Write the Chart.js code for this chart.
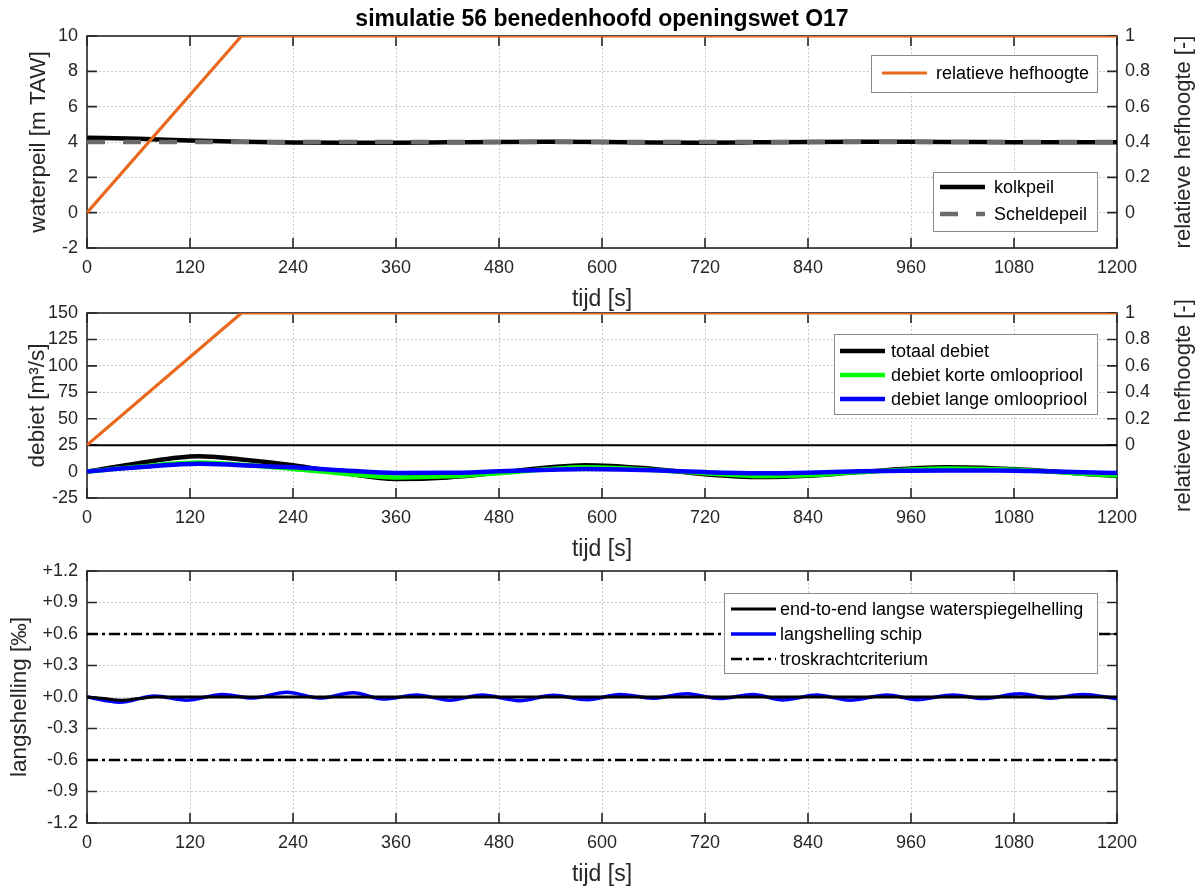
<!DOCTYPE html>
<html>
<head>
<meta charset="utf-8">
<title>simulatie 56 benedenhoofd openingswet O17</title>
<script src="https://cdn.jsdelivr.net/npm/chart.js@4/dist/chart.umd.min.js"></script>
<style>
  html, body { margin: 0; padding: 0; background: #ffffff; }
  #wrap { position: relative; width: 1199px; height: 892px; }
  #wrap canvas { position: absolute; left: 0; top: 0; }
</style>
</head>
<body>
<div id="wrap">
  <canvas id="c1" width="1199" height="892"></canvas>
  <canvas id="c2" width="1199" height="892"></canvas>
  <canvas id="c3" width="1199" height="892"></canvas>
</div>
<script>
// ---- tick values and labels ----
const tijdTicks  = [0, 120, 240, 360, 480, 600, 720, 840, 960, 1080, 1200];
const tijdLabels = ['0', '120', '240', '360', '480', '600', '720', '840', '960', '1080', '1200'];
const peilTicks  = [-2, 0, 2, 4, 6, 8, 10];
const peilLabels = ['-2', '0', '2', '4', '6', '8', '10'];
const debietTicks  = [-25, 0, 25, 50, 75, 100, 125, 150];
const debietLabels = ['-25', '0', '25', '50', '75', '100', '125', '150'];
const hefTicks  = [0, 0.2, 0.4, 0.6, 0.8, 1];
const hefLabels = ['0', '0.2', '0.4', '0.6', '0.8', '1'];
const hellingTicks  = [-1.2, -0.9, -0.6, -0.3, 0, 0.3, 0.6, 0.9, 1.2];
const hellingLabels = ['-1.2', '-0.9', '-0.6', '-0.3', '+0.0', '+0.3', '+0.6', '+0.9', '+1.2'];

// ---- relative lift height of the valves (right axes) ----
const hefTijd   = [0, 180, 1200];
const hefWaarde = [0, 1, 1];

// ---- water levels [m TAW] ----
const peilTijd    = [0, 60, 120, 180, 240, 300, 360, 420, 480, 540, 600, 660, 720, 780, 840, 900, 960, 1020, 1080, 1140, 1200];
const kolkpeil    = [4.24, 4.18, 4.08, 4.01, 3.97, 3.96, 3.96, 3.98, 4.00, 4.01, 4.00, 3.97, 3.96, 3.98, 4.00, 4.01, 4.01, 4.00, 3.99, 3.99, 3.99];
const scheldepeil = [4.00, 4.00, 4.00, 4.00, 4.00, 4.00, 4.00, 4.00, 4.00, 4.00, 4.00, 4.00, 4.00, 4.00, 4.00, 4.00, 4.00, 4.00, 4.00, 4.00, 4.00];

// ---- discharges [m3/s] ----
const debietTijd   = [0, 60, 130, 180, 240, 300, 360, 420, 480, 540, 580, 660, 720, 785, 840, 900, 1000, 1060, 1100, 1150, 1200];
const totaalDebiet = [0, 8, 14.5, 11.5, 6, -1.5, -7, -5.5, -1, 4, 6, 2.5, -2.5, -5.2, -4, -0.5, 4, 3, 1.5, -1.5, -4.2];
const debietKorte  = [0, 4.5, 8.5, 6.5, 2.5, -2, -5.5, -4.5, -1.5, 2.5, 4, 1.5, -1.5, -4.2, -3.5, -0.5, 3, 2.3, 1, -1.5, -3.7];
const debietLange  = [0, 4, 7.5, 6, 4, 1, -1.3, -1.2, 0.3, 1.8, 2.5, 1.3, -0.5, -1.5, -1, 0.2, 1, 1, 0.5, -0.5, -1.3];
const debietRefTijd = [0, 1200];
const debietRef     = [25, 25];

// ---- longitudinal slopes [permille] ----
const endToEndTijd = [0, 20, 40, 60, 80, 120, 240, 360, 480, 600, 720, 840, 960, 1080, 1200];
const endToEnd     = [0, -0.015, -0.03, -0.015, 0, 0, 0, 0, 0, 0, 0, 0, 0, 0, 0];
const schipTijd = [0, 38, 79, 116, 158, 193, 233, 271, 310, 345, 384, 423, 460, 504, 543, 583, 621, 659, 699, 737, 776, 811, 850, 889, 932, 967, 1009, 1044, 1087, 1122, 1160, 1200];
const schip     = [0, -0.05, 0.01, -0.03, 0.025, -0.01, 0.045, -0.01, 0.04, -0.02, 0.018, -0.03, 0.018, -0.035, 0.016, -0.025, 0.025, -0.012, 0.032, -0.015, 0.024, -0.028, 0.018, -0.03, 0.02, -0.025, 0.02, -0.015, 0.03, -0.012, 0.024, -0.015];
const criteriumTijd = [0, 1200];
const criteriumBoven = [0.6, 0.6];
const criteriumOnder = [-0.6, -0.6];

// ---- styling ----
const FONT = "'Liberation Sans', Arial, Helvetica, sans-serif";
const INK = '#262626';
const GRID = '#cbcbcb';
const ORANGE = '#E8691C';
const TICK_LEN = 10;
const XAXIS_H = 65;
const LEFT_W = 87;
const RIGHT_W = 82;

Chart.defaults.font.family = FONT;
Chart.defaults.color = INK;

const pts = (xs, ys) => xs.map((x, i) => ({ x: x, y: ys[i] }));

function xScale() {
  return {
    type: 'linear', min: 0, max: 1200,
    afterBuildTicks: s => { s.ticks = tijdTicks.map(v => ({ value: v })); },
    afterFit: s => { s.height = XAXIS_H; },
    ticks: { callback: (v, i) => tijdLabels[i], font: { size: 18 }, padding: 9, maxRotation: 0, autoSkip: false, color: INK },
    grid: { color: GRID, lineWidth: 1, drawTicks: false },
    border: { display: false, dash: [2, 2] },
    title: { display: true, text: 'tijd [s]', font: { size: 23 }, color: INK, padding: { top: 0, bottom: 0 } }
  };
}

function leftY(min, max, vals, labels, title, titlePad) {
  return {
    type: 'linear', position: 'left', min: min, max: max,
    afterBuildTicks: s => { s.ticks = vals.map(v => ({ value: v })); },
    afterFit: s => { s.width = LEFT_W; },
    ticks: { callback: (v, i) => labels[i], font: { size: 18 }, padding: 9, color: INK },
    grid: { color: GRID, lineWidth: 1, drawTicks: false },
    border: { display: false, dash: [2, 2] },
    title: { display: true, text: title, font: { size: 22.5 }, color: INK, padding: { top: titlePad, bottom: 0 } }
  };
}

function rightY(min, max) {
  return {
    type: 'linear', position: 'right', min: min, max: max,
    afterBuildTicks: s => { s.ticks = hefTicks.map(v => ({ value: v })); },
    afterFit: s => { s.width = RIGHT_W; },
    ticks: { callback: (v, i) => hefLabels[i], font: { size: 18 }, padding: 8, color: INK },
    grid: { display: false, drawTicks: false },
    border: { display: false }
  };
}

// Axes box, inward tick marks, rotated right-hand title and the figure title.
function makeFrame(cfg) {
  return {
    id: 'frame',
    beforeDatasetsDraw(chart) {
      const ctx = chart.ctx, a = chart.chartArea, sc = chart.scales;
      ctx.save();
      ctx.strokeStyle = INK;
      ctx.lineWidth = 1.6;
      ctx.beginPath();
      sc.x.ticks.forEach(t => {
        const px = sc.x.getPixelForValue(t.value);
        ctx.moveTo(px, a.bottom); ctx.lineTo(px, a.bottom - TICK_LEN);
        ctx.moveTo(px, a.top); ctx.lineTo(px, a.top + TICK_LEN);
      });
      sc.y.ticks.forEach(t => {
        const py = sc.y.getPixelForValue(t.value);
        ctx.moveTo(a.left, py); ctx.lineTo(a.left + TICK_LEN, py);
      });
      const r = sc.y2 || sc.y;
      r.ticks.forEach(t => {
        const py = r.getPixelForValue(t.value);
        ctx.moveTo(a.right, py); ctx.lineTo(a.right - TICK_LEN, py);
      });
      ctx.stroke();
      ctx.strokeRect(a.left, a.top, a.right - a.left, a.bottom - a.top);

      if (cfg.rightTitle) {
        ctx.save();
        ctx.translate(cfg.rightTitleX, (a.top + a.bottom) / 2);
        ctx.rotate(-Math.PI / 2);
        ctx.font = '22px ' + FONT;
        ctx.fillStyle = INK;
        ctx.textAlign = 'center';
        ctx.textBaseline = 'middle';
        ctx.fillText(cfg.rightTitle, 0, 0);
        ctx.restore();
      }
      if (cfg.title) {
        ctx.font = 'bold 23px ' + FONT;
        ctx.fillStyle = '#000000';
        ctx.textAlign = 'center';
        ctx.textBaseline = 'alphabetic';
        ctx.fillText(cfg.title, (a.left + a.right) / 2, cfg.titleY);
      }
      ctx.restore();
    }
  };
}

// Boxed legends inside the plot area, built from the datasets' own styles.
function makeLegend(boxes) {
  return {
    id: 'boxLegend',
    afterDatasetsDraw(chart) {
      const ctx = chart.ctx;
      boxes.forEach(b => {
        ctx.save();
        ctx.fillStyle = '#ffffff';
        ctx.fillRect(b.left, b.top, b.right - b.left, b.bottom - b.top);
        ctx.strokeStyle = '#8a8a8a';
        ctx.lineWidth = 1;
        ctx.strokeRect(b.left + 0.5, b.top + 0.5, b.right - b.left, b.bottom - b.top);
        b.rows.forEach(row => {
          const ds = chart.data.datasets[row.ds];
          ctx.beginPath();
          ctx.setLineDash(ds.borderDash || []);
          ctx.strokeStyle = ds.borderColor;
          ctx.lineWidth = ds.borderWidth;
          ctx.moveTo(b.lineFrom, row.y);
          ctx.lineTo(b.lineTo, row.y);
          ctx.stroke();
          ctx.setLineDash([]);
          ctx.font = '18px ' + FONT;
          ctx.fillStyle = '#000000';
          ctx.textAlign = 'left';
          ctx.textBaseline = 'middle';
          ctx.fillText(ds.label, b.textX, row.y + 1);
        });
        ctx.restore();
      });
    }
  };
}

function baseOptions(padTop, padBottom, padRight, scales) {
  return {
    responsive: false,
    animation: false,
    devicePixelRatio: 1,
    events: [],
    layout: { padding: { top: padTop, bottom: padBottom, left: 0, right: padRight } },
    elements: { point: { radius: 0 } },
    plugins: { legend: { display: false }, tooltip: { enabled: false }, title: { display: false } },
    scales: scales
  };
}

// ---- panel 1: water levels ----
new Chart(document.getElementById('c1'), {
  type: 'line',
  data: {
    datasets: [
      { label: 'relatieve hefhoogte', data: pts(hefTijd, hefWaarde), yAxisID: 'y2',
        borderColor: ORANGE, borderWidth: 3.2, tension: 0 },
      { label: 'Scheldepeil', data: pts(peilTijd, scheldepeil), yAxisID: 'y',
        borderColor: '#6b6b6b', borderWidth: 4.5, borderDash: [18, 18], cubicInterpolationMode: 'monotone' },
      { label: 'kolkpeil', data: pts(peilTijd, kolkpeil), yAxisID: 'y',
        borderColor: '#000000', borderWidth: 4.5, cubicInterpolationMode: 'monotone' }
    ]
  },
  options: baseOptions(36, 892 - 248 - XAXIS_H, 0, {
    x: xScale(),
    y: leftY(-2, 10, peilTicks, peilLabels, 'waterpeil [m TAW]', 25),
    y2: rightY(-0.2, 1)
  }),
  plugins: [
    makeFrame({ rightTitle: 'relatieve hefhoogte [-]', rightTitleX: 1184,
                title: 'simulatie 56 benedenhoofd openingswet O17', titleY: 26 }),
    makeLegend([
      { left: 871, top: 55, right: 1097, bottom: 92, lineFrom: 882, lineTo: 927, textX: 936, rows: [{ ds: 0, y: 73 }] },
      { left: 933, top: 172, right: 1097, bottom: 231, lineFrom: 940, lineTo: 985, textX: 994, rows: [{ ds: 2, y: 187 }, { ds: 1, y: 214 }] }
    ])
  ]
});

// ---- panel 2: discharges ----
new Chart(document.getElementById('c2'), {
  type: 'line',
  data: {
    datasets: [
      { label: 'relatieve hefhoogte', data: pts(hefTijd, hefWaarde), yAxisID: 'y2',
        borderColor: ORANGE, borderWidth: 3.2, tension: 0 },
      { label: 'debiet lange omloopriool', data: pts(debietTijd, debietLange), yAxisID: 'y',
        borderColor: '#0000ff', borderWidth: 4.5, cubicInterpolationMode: 'monotone' },
      { label: 'debiet korte omloopriool', data: pts(debietTijd, debietKorte), yAxisID: 'y',
        borderColor: '#00ff00', borderWidth: 4.5, cubicInterpolationMode: 'monotone' },
      { label: 'totaal debiet', data: pts(debietTijd, totaalDebiet), yAxisID: 'y',
        borderColor: '#000000', borderWidth: 4.5, cubicInterpolationMode: 'monotone' },
      { label: '', data: pts(debietRefTijd, debietRef), yAxisID: 'y',
        borderColor: '#000000', borderWidth: 2, tension: 0 }
    ]
  },
  options: baseOptions(313, 892 - 498 - XAXIS_H, 0, {
    x: xScale(),
    y: leftY(-25, 150, debietTicks, debietLabels, 'debiet [m³/s]', 24),
    y2: rightY(-0.4, 1)
  }),
  plugins: [
    makeFrame({ rightTitle: 'relatieve hefhoogte [-]', rightTitleX: 1184 }),
    makeLegend([
      { left: 834, top: 334, right: 1097, bottom: 414, lineFrom: 840, lineTo: 885, textX: 891,
        rows: [{ ds: 3, y: 351 }, { ds: 2, y: 375 }, { ds: 1, y: 399 }] }
    ])
  ]
});

// ---- panel 3: longitudinal slopes ----
new Chart(document.getElementById('c3'), {
  type: 'line',
  data: {
    datasets: [
      { label: 'end-to-end langse waterspiegelhelling', data: pts(endToEndTijd, endToEnd),
        borderColor: '#000000', borderWidth: 3, cubicInterpolationMode: 'monotone' },
      { label: 'langshelling schip', data: pts(schipTijd, schip),
        borderColor: '#0000ff', borderWidth: 3.5, cubicInterpolationMode: 'monotone' },
      { label: 'troskrachtcriterium', data: pts(criteriumTijd, criteriumBoven),
        borderColor: '#000000', borderWidth: 2.5, borderDash: [11, 4, 3, 4], tension: 0 },
      { label: 'troskrachtcriterium', data: pts(criteriumTijd, criteriumOnder),
        borderColor: '#000000', borderWidth: 2.5, borderDash: [11, 4, 3, 4], tension: 0 }
    ]
  },
  options: baseOptions(571, 892 - 823 - XAXIS_H, RIGHT_W, {
    x: xScale(),
    y: leftY(-1.2, 1.2, hellingTicks, hellingLabels, 'langshelling [‰]', 6)
  }),
  plugins: [
    makeFrame({}),
    makeLegend([
      { left: 724, top: 593, right: 1097, bottom: 673, lineFrom: 731, lineTo: 776, textX: 780,
        rows: [{ ds: 0, y: 609 }, { ds: 1, y: 634 }, { ds: 2, y: 659 }] }
    ])
  ]
});
</script>
</body>
</html>
